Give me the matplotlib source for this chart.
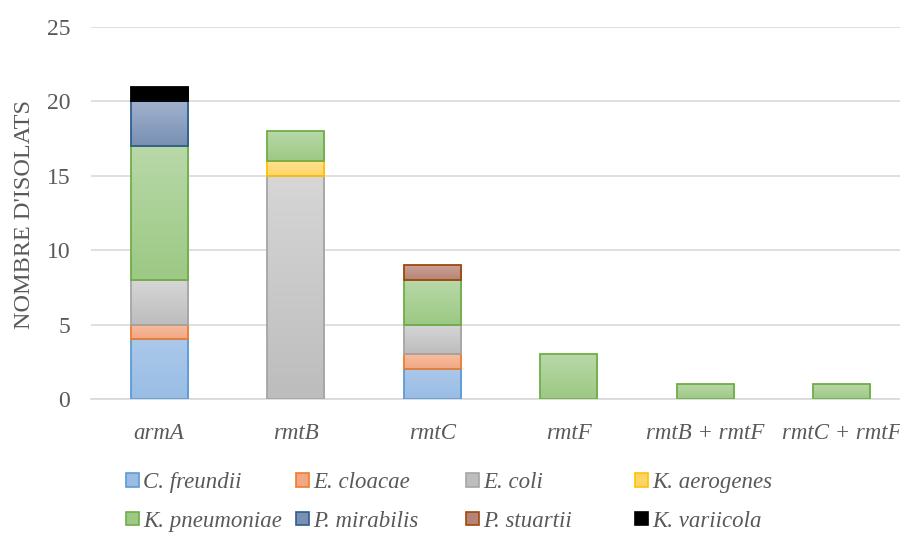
import numpy as np
import matplotlib
matplotlib.use("Agg")
import matplotlib.pyplot as plt
from matplotlib.colors import LinearSegmentedColormap
from matplotlib.patches import Patch

# Categories (genes) and species counts, stacked bottom to top
genes = ['armA', 'rmtB', 'rmtC', 'rmtF', 'rmtB + rmtF', 'rmtC + rmtF']
species = ['C. freundii', 'E. cloacae', 'E. coli', 'K. aerogenes',
           'K. pneumoniae', 'P. mirabilis', 'P. stuartii', 'K. variicola']

c_freundii = [4, 0, 2, 0, 0, 0]
e_cloacae = [1, 0, 1, 0, 0, 0]
e_coli = [3, 15, 2, 0, 0, 0]
k_aerogenes = [0, 1, 0, 0, 0, 0]
k_pneumoniae = [9, 2, 3, 3, 1, 1]
p_mirabilis = [3, 0, 0, 0, 0, 0]
p_stuartii = [0, 0, 1, 0, 0, 0]
k_variicola = [1, 0, 0, 0, 0, 0]

counts = [c_freundii, e_cloacae, e_coli, k_aerogenes,
          k_pneumoniae, p_mirabilis, p_stuartii, k_variicola]

# (top colour, bottom colour, edge colour) - Excel-like gradient fills
styles = [
    ('#AAC8EA', '#9ABDE5', '#5B9BD5'),
    ('#F7BDA0', '#F2A883', '#ED7D31'),
    ('#D6D6D6', '#BDBDBD', '#A5A5A5'),
    ('#FFE194', '#FFD566', '#FFC000'),
    ('#B8D8A8', '#9CC984', '#70AD47'),
    ('#A0B1CD', '#7990B3', '#2E5E8E'),
    ('#CBA197', '#B68476', '#9E480E'),
    ('#000000', '#000000', '#000000'),
]

plt.rcParams['font.family'] = ['Liberation Serif', 'DejaVu Serif']

fig = plt.figure(figsize=(9, 5.33), dpi=100)
ax = fig.add_axes([91 / 900, 134 / 533, 819 / 900, 372 / 533])

x = np.arange(len(genes))
width = 0.42
bottom = np.zeros(len(genes))
for vals, (top_c, bot_c, edge_c) in zip(counts, styles):
    vals = np.array(vals, dtype=float)
    bars = ax.bar(x, vals, width, bottom=bottom, facecolor='none',
                  edgecolor=edge_c, linewidth=1.3, zorder=3)
    cmap = LinearSegmentedColormap.from_list('g', [bot_c, top_c])
    for b, v in zip(bars, vals):
        if v <= 0:
            b.set_visible(False)
            continue
        x0, y0 = b.get_x(), b.get_y()
        im = ax.imshow(np.linspace(0, 1, 50).reshape(-1, 1), cmap=cmap,
                       extent=[x0, x0 + b.get_width(), y0, y0 + b.get_height()],
                       origin='lower', aspect='auto', zorder=2)
        im.set_clip_path(b)
    bottom += vals

ax.set_xlim(-0.5, len(genes) - 0.5)
ax.set_ylim(0, 25)
ax.set_yticks([0, 5, 10, 15, 20, 25])
ax.set_xticks(x)
ax.set_xticklabels(genes, fontstyle='italic', fontsize=16.5, color='#595959')
ax.tick_params(axis='y', labelsize=17, labelcolor='#595959', length=0, pad=15)
ax.tick_params(axis='x', length=0, pad=17)
ax.grid(axis='y', color='#D9D9D9', linewidth=1.2, zorder=0)
for s in ['top', 'right', 'left']:
    ax.spines[s].set_visible(False)
ax.spines['bottom'].set_color('#D9D9D9')
ax.spines['bottom'].set_linewidth(1.2)

ax.set_ylabel("NOMBRE D'ISOLATS", fontsize=17.5, color='#595959')
ax.yaxis.set_label_coords(-0.068, 0.495)

# legend: four columns, two rows, filled row by row
col_x = [126, 296, 466, 635]
for i, cx in enumerate(col_x):
    idx = [i, i + 4]
    hs = [Patch(facecolor=styles[j][1], edgecolor=styles[j][2], linewidth=1.2)
          for j in idx]
    fig.legend(hs, [species[j] for j in idx], loc='center left',
               bbox_to_anchor=(cx / 900, (533 - 502) / 533),
               frameon=False, prop={'style': 'italic', 'size': 16.5},
               labelcolor='#595959', handlelength=0.55, handleheight=0.55,
               handletextpad=0.2, labelspacing=0.75, borderpad=0,
               borderaxespad=0)

fig.savefig('out.png', dpi=100)
